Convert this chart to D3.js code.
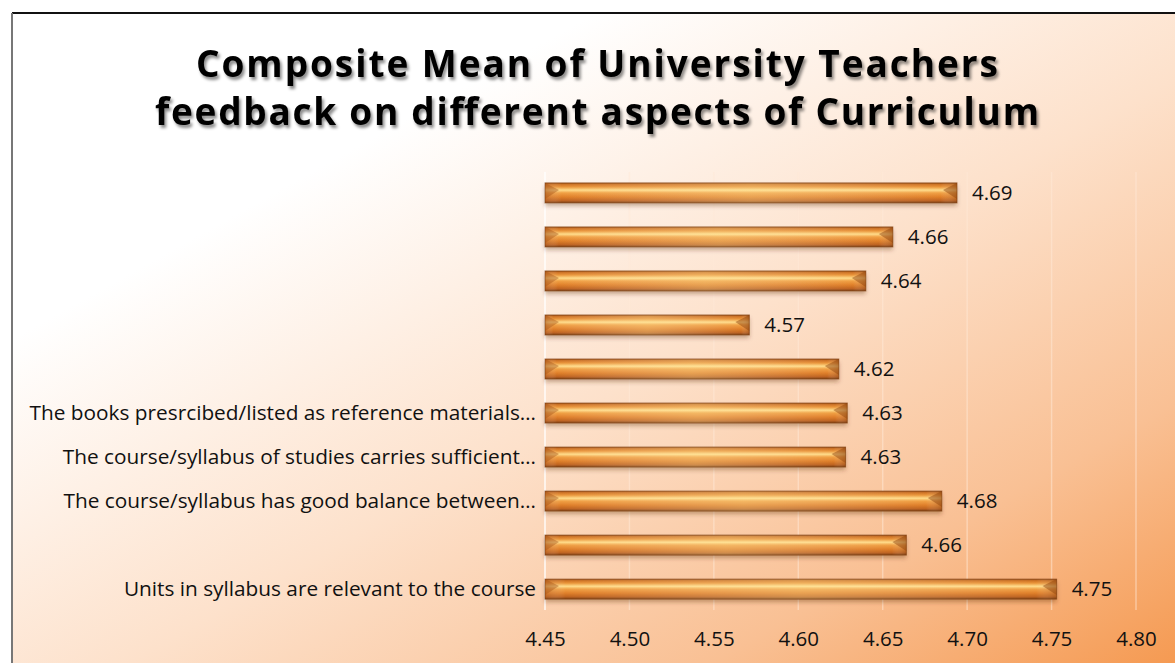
<!DOCTYPE html>
<html>
<head>
<meta charset="utf-8">
<script src="https://cdn.jsdelivr.net/npm/d3@7"></script>
<style>
  body { margin: 0; background: #fff; }
  svg { display: block; }
</style>
</head>
<body>
<div id="chart"></div>
<script>
// data, top bar first
var categories = [
  "",
  "",
  "",
  "",
  "",
  "The books presrcibed/listed as reference materials…",
  "The course/syllabus of studies carries sufficient…",
  "The course/syllabus has good balance between…",
  "",
  "Units in syllabus are relevant to the course"
];
var means = [4.694, 4.656, 4.640, 4.571, 4.624, 4.629, 4.628, 4.685, 4.664, 4.753];
var xTicks = [4.45, 4.50, 4.55, 4.60, 4.65, 4.70, 4.75, 4.80];
var titleLines = ["Composite Mean of University Teachers", "feedback on different aspects of Curriculum"];

var W = 1175, H = 663;
var font = "'Open Sans', 'Noto Sans', sans-serif";

var svg = d3.select("#chart").append("svg")
    .attr("width", W)
    .attr("height", H);

var defs = svg.append("defs");

// background gradient
var bg = defs.append("linearGradient").attr("id", "bgGrad")
    .attr("x1", "0%").attr("y1", "0%").attr("x2", "100%").attr("y2", "100%");
bg.append("stop").attr("offset", "0%").attr("stop-color", "#ffffff");
bg.append("stop").attr("offset", "25%").attr("stop-color", "#ffffff");
bg.append("stop").attr("offset", "55%").attr("stop-color", "#fde1cb");
bg.append("stop").attr("offset", "80%").attr("stop-color", "#f9c094");
bg.append("stop").attr("offset", "100%").attr("stop-color", "#f59a52");

// bar gradients
var bv = defs.append("linearGradient").attr("id", "barV")
    .attr("x1", 0).attr("y1", 0).attr("x2", 0).attr("y2", 1);
[[0, "#9a5018"], [0.08, "#cf7426"], [0.2, "#ea9438"], [0.36, "#ffdc8a"], [0.5, "#f0a044"],
 [0.7, "#e0802a"], [0.88, "#bf6420"], [1, "#7e4012"]].forEach(function(s) {
  bv.append("stop").attr("offset", s[0]).attr("stop-color", s[1]);
});
var bh = defs.append("linearGradient").attr("id", "barH")
    .attr("x1", 0).attr("y1", 0).attr("x2", 1).attr("y2", 0);
[[0, "#a0501a", 0.3], [0.04, "#ffffff", 0], [0.5, "#fff0b0", 0.3], [0.96, "#ffffff", 0], [1, "#7a3c10", 0.3]]
  .forEach(function(s) {
    bh.append("stop").attr("offset", s[0]).attr("stop-color", s[1]).attr("stop-opacity", s[2]);
  });

var shadow = defs.append("filter").attr("id", "barShadow")
    .attr("x", "-5%").attr("y", "-30%").attr("width", "110%").attr("height", "180%");
shadow.append("feDropShadow").attr("dx", 0).attr("dy", 3).attr("stdDeviation", 2)
    .attr("flood-color", "#5a2a00").attr("flood-opacity", 0.35);

var tShadow = defs.append("filter").attr("id", "titleShadow")
    .attr("x", "-5%").attr("y", "-30%").attr("width", "110%").attr("height", "180%");
tShadow.append("feDropShadow").attr("dx", 2).attr("dy", 3).attr("stdDeviation", 1.8)
    .attr("flood-color", "#000").attr("flood-opacity", 0.45);

// chart area background + frame
svg.append("rect")
    .attr("x", 13).attr("y", 14)
    .attr("width", W - 13).attr("height", H - 14)
    .attr("fill", "url(#bgGrad)");
svg.append("line")
    .attr("x1", 12).attr("x2", W).attr("y1", 13).attr("y2", 13)
    .attr("stroke", "#111").attr("stroke-width", 2);
svg.append("line")
    .attr("x1", 12).attr("x2", 12).attr("y1", 13).attr("y2", H)
    .attr("stroke", "#777").attr("stroke-width", 2);

// title
var title = svg.append("g").attr("filter", "url(#titleShadow)");
title.selectAll("text")
  .data(titleLines)
  .enter().append("text")
    .attr("x", 597)
    .attr("y", function(d, i) { return 77 + i * 48; })
    .attr("text-anchor", "middle")
    .attr("font-family", font)
    .attr("font-weight", 700)
    .attr("font-size", 37)
    .attr("textLength", function(d, i) { return i === 0 ? 802 : 884; })
    .attr("lengthAdjust", "spacing")
    .attr("fill", "#000")
    .text(function(d) { return d; });

// scales
var x = d3.scaleLinear()
    .domain([xTicks[0], xTicks[xTicks.length - 1]])
    .range([545, 1136]);

var y = d3.scaleBand()
    .domain(d3.range(categories.length))
    .range([171, 611])
    .paddingInner(0.545)
    .paddingOuter(0.27);

// gridlines
svg.append("g")
  .selectAll("line")
  .data(xTicks)
  .enter().append("line")
    .attr("x1", function(d) { return x(d); })
    .attr("x2", function(d) { return x(d); })
    .attr("y1", 172).attr("y2", 610)
    .attr("stroke", function(d, i) { return i === 0 ? "#ffffff" : "#ffe9d8"; })
    .attr("stroke-opacity", function(d, i) { return i === 0 ? 0.9 : 0.5; })
    .attr("stroke-width", 1.5);

// bars
var bars = svg.append("g").selectAll("g.bar")
  .data(means)
  .enter().append("g")
    .attr("class", "bar");

bars.append("rect")
    .attr("x", x(xTicks[0]))
    .attr("y", function(d, i) { return y(i); })
    .attr("width", function(d) { return x(d) - x(xTicks[0]); })
    .attr("height", y.bandwidth())
    .attr("fill", "url(#barV)")
    .attr("filter", "url(#barShadow)");

bars.append("rect")
    .attr("x", x(xTicks[0]))
    .attr("y", function(d, i) { return y(i); })
    .attr("width", function(d) { return x(d) - x(xTicks[0]); })
    .attr("height", y.bandwidth())
    .attr("fill", "url(#barH)");

// bevelled ends: dark corner triangles
var bev = 7;
bars.append("path")
    .attr("d", function(d, i) {
      var x1 = x(d), y0 = y(i), h = y.bandwidth();
      return "M" + x1 + "," + y0 + "L" + (x1 - bev * 2) + "," + (y0 + bev) +
             "L" + x1 + "," + (y0 + h - 4) + "Z";
    })
    .attr("fill", "#93480f")
    .attr("fill-opacity", 0.5);
bars.append("path")
    .attr("d", function(d, i) {
      var x0 = x(xTicks[0]), y0 = y(i), h = y.bandwidth();
      return "M" + x0 + "," + y0 + "L" + (x0 + bev * 2) + "," + (y0 + bev) +
             "L" + x0 + "," + (y0 + h - 4) + "Z";
    })
    .attr("fill", "#a85618")
    .attr("fill-opacity", 0.45);
bars.append("rect")
    .attr("x", x(xTicks[0]))
    .attr("y", function(d, i) { return y(i); })
    .attr("width", function(d) { return x(d) - x(xTicks[0]); })
    .attr("height", y.bandwidth())
    .attr("fill", "none")
    .attr("stroke", "#7e3e10")
    .attr("stroke-opacity", 0.6)
    .attr("stroke-width", 1);

// value labels
svg.append("g").selectAll("text")
  .data(means)
  .enter().append("text")
    .attr("x", function(d) { return x(d) + 15; })
    .attr("y", function(d, i) { return y(i) + y.bandwidth() / 2; })
    .attr("dy", "0.35em")
    .attr("font-family", font)
    .attr("font-size", 20.5)
    .attr("fill", "#111")
    .text(function(d) { return d.toFixed(2); });

// category axis
var yAxis = svg.append("g")
    .attr("transform", "translate(" + x(xTicks[0]) + ",0)")
    .call(d3.axisLeft(y).tickSize(0).tickPadding(9)
      .tickFormat(function(i) { return categories[i]; }));
yAxis.select(".domain").remove();
yAxis.selectAll("text")
    .attr("font-family", font)
    .attr("font-size", 20.8)
    .attr("fill", "#111");

// value axis
var xAxis = svg.append("g")
    .attr("transform", "translate(0,622)")
    .call(d3.axisBottom(x).tickValues(xTicks).tickSize(0).tickPadding(9)
      .tickFormat(d3.format(".2f")));
xAxis.select(".domain").remove();
xAxis.selectAll("text")
    .attr("font-family", font)
    .attr("font-size", 20.5)
    .attr("fill", "#111");
</script>
</body>
</html>
